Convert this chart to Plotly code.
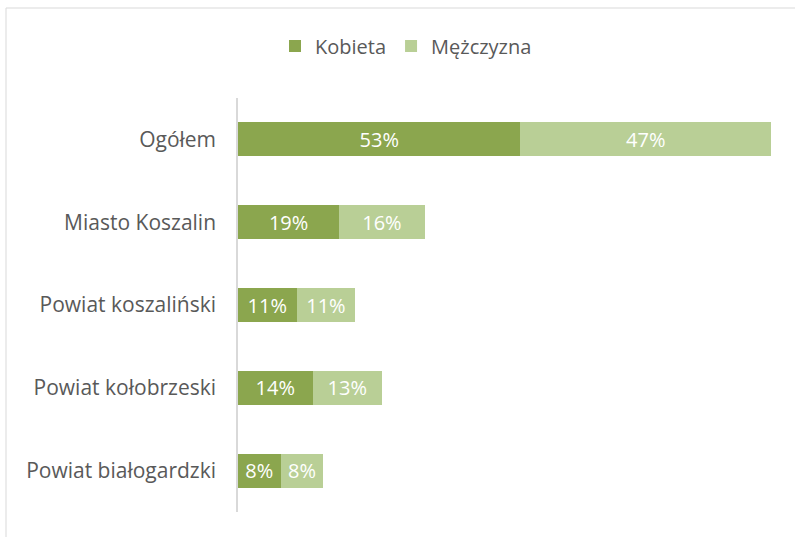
import plotly.graph_objects as go

categories = ["Ogółem", "Miasto Koszalin", "Powiat koszaliński",
              "Powiat kołobrzeski", "Powiat białogardzki"]
kobieta = [53, 19, 11, 14, 8]
mezczyzna = [47, 16, 11, 13, 8]

DARK = "#8BA64E"
LIGHT = "#B9CF96"
TEXT = "#595959"
FONT = "Open Sans"
FS = 20

W, H = 795, 537
L, R, T, B = 238, 24, 98, 25

fig = go.Figure()
for name, vals, col in [("Kobieta", kobieta, DARK), ("Mężczyzna", mezczyzna, LIGHT)]:
    fig.add_trace(go.Bar(
        y=categories, x=vals, name=name, orientation="h",
        marker=dict(color=col, line=dict(width=0)),
        texttemplate="%{x}%", textposition="inside",
        insidetextanchor="middle", textangle=0,
        textfont=dict(color="white", size=FS, family=FONT),
        cliponaxis=False,
    ))

pw = W - L - R
ph = H - T - B
fig.add_shape(
    type="rect", xref="paper", yref="paper",
    x0=(6 - L) / pw, x1=(W + 5 - L) / pw,
    y0=-(H + 5 - (H - B)) / ph, y1=((H - B) - 8) / ph,
    line=dict(color="#D9D9D9", width=1), fillcolor="rgba(0,0,0,0)",
    layer="below",
)

fig.update_layout(
    width=W, height=H,
    margin=dict(l=L, r=R, t=T, b=B, autoexpand=False),
    barmode="stack", bargap=0.59,
    plot_bgcolor="white", paper_bgcolor="white",
    font=dict(family=FONT, color=TEXT, size=FS),
    uniformtext=dict(minsize=FS, mode="show"),
    legend=dict(
        orientation="h", xref="container", yref="container",
        x=406 / W, xanchor="center", y=1 - 46 / H, yanchor="middle",
        font=dict(size=FS, color=TEXT, family=FONT),
        itemwidth=30, traceorder="normal",
    ),
    xaxis=dict(range=[0, 100], visible=False, fixedrange=True),
    yaxis=dict(
        autorange="reversed", showline=True, linecolor="#D9D9D9", linewidth=1.5,
        showgrid=False, ticks="", ticklabelstandoff=16,
        tickfont=dict(size=21, color=TEXT, family=FONT),
    ),
)

fig.write_html("out.html")
